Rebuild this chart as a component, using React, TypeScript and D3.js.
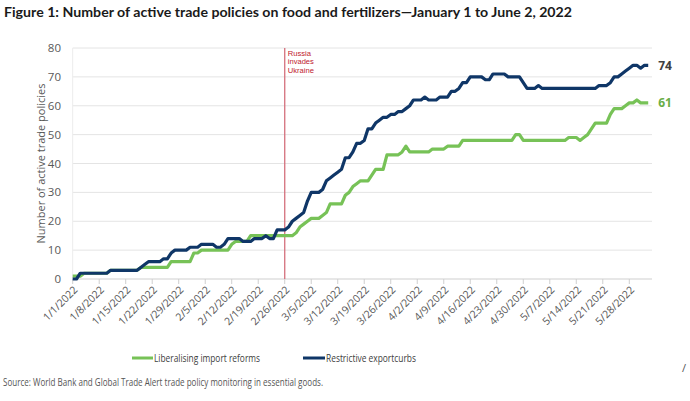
import React from "react";
import * as d3 from "d3";

const START = "2022-01-01";
const END_DOMAIN = "2022-06-03";

// daily values from 1/1/2022 to 6/2/2022 (one row per week)
const liberalising: number[] = [
  1, 1, 1, 2, 2, 2, 2,
  2, 2, 2, 3, 3, 3, 3,
  3, 3, 3, 3, 4, 4, 4,
  4, 4, 4, 4, 4, 6, 6,
  6, 6, 6, 6, 9, 9, 10,
  10, 10, 10, 10, 10, 10, 10,
  12, 13, 13, 13, 13, 15, 15,
  15, 15, 15, 15, 15, 15, 15,
  15, 15, 15, 16, 18, 19, 20,
  21, 21, 21, 22, 23, 26, 26,
  26, 26, 29, 30, 32, 33, 34,
  34, 34, 36, 38, 38, 38, 43,
  43, 43, 43, 44, 46, 44, 44,
  44, 44, 44, 44, 45, 45, 45,
  45, 46, 46, 46, 46, 48, 48,
  48, 48, 48, 48, 48, 48, 48,
  48, 48, 48, 48, 48, 50, 50,
  48, 48, 48, 48, 48, 48, 48,
  48, 48, 48, 48, 48, 49, 49,
  49, 48, 49, 50, 52, 54, 54,
  54, 54, 57, 59, 59, 59, 60,
  61, 61, 62, 61, 61, 61,
];

const restrictive: number[] = [
  0, 0, 2, 2, 2, 2, 2,
  2, 2, 2, 3, 3, 3, 3,
  3, 3, 3, 3, 4, 5, 6,
  6, 6, 6, 7, 7, 9, 10,
  10, 10, 10, 11, 11, 11, 12,
  12, 12, 12, 11, 11, 12, 14,
  14, 14, 14, 13, 13, 13, 14,
  14, 14, 15, 14, 14, 17, 17,
  17, 18, 20, 21, 22, 23, 27,
  30, 30, 30, 31, 34, 35, 36,
  37, 38, 42, 42, 44, 47, 47,
  48, 52, 52, 54, 55, 56, 56,
  57, 57, 58, 58, 59, 60, 62,
  62, 62, 63, 62, 62, 62, 63,
  63, 63, 65, 65, 66, 68, 68,
  70, 70, 70, 70, 69, 69, 71,
  71, 71, 71, 70, 70, 70, 70,
  68, 66, 66, 66, 67, 66, 66,
  66, 66, 66, 66, 66, 66, 66,
  66, 66, 66, 66, 66, 66, 67,
  67, 67, 68, 70, 70, 71, 72,
  73, 74, 74, 73, 74, 74,
];

const seriesNames = ["Liberalising import reforms", "Restrictive exportcurbs"];
const yTicks = [0, 10, 20, 30, 40, 50, 60, 70, 80];
const xTickDates = [
  "2022-01-01", "2022-01-08", "2022-01-15", "2022-01-22", "2022-01-29",
  "2022-02-05", "2022-02-12", "2022-02-19", "2022-02-26", "2022-03-05",
  "2022-03-12", "2022-03-19", "2022-03-26", "2022-04-02", "2022-04-09",
  "2022-04-16", "2022-04-23", "2022-04-30", "2022-05-07", "2022-05-14",
  "2022-05-21", "2022-05-28",
];
const invasionDate = "2022-02-26";
const invasionLabel = ["Russia", "invades", "Ukraine"];

const GREEN = "#77c257";
const NAVY = "#0f3667";

const parse = (s: string) => new Date(s + "T00:00:00Z");

export default function App() {
  const W = 690, H = 401;
  const left = 72.7, right = 652, top = 48, bottom = 279;
  const x = d3.scaleUtc().domain([parse(START), parse(END_DOMAIN)]).range([left, right]);
  const y = d3.scaleLinear().domain([0, 80]).range([bottom, top]);
  const start = parse(START);
  const dayDate = (i: number) => d3.utcDay.offset(start, i);
  const line = d3
    .line<number>()
    .x((_, i) => x(dayDate(i)))
    .y((v) => y(v));
  const fmt = d3.utcFormat("%-m/%-d/%Y");
  const xi = x(parse(invasionDate));
  const font = "'Open Sans', 'Noto Sans', sans-serif";
  const lastL = liberalising[liberalising.length - 1];
  const lastR = restrictive[restrictive.length - 1];
  const lastX = x(dayDate(restrictive.length - 1));

  return (
    <svg width={W} height={H} style={{ position: "absolute", left: 0, top: 0, background: "#fff" }}>
      <text x={4} y={17} fontFamily="Lato, sans-serif" fontWeight={700} fontSize={12.5} fill="#1a1a1a" textLength={568} lengthAdjust="spacingAndGlyphs">
        Figure 1: Number of active trade policies on food and fertilizers—January 1 to June 2, 2022
      </text>
      {/* gridlines */}
      {yTicks.map((t) => (
        <line key={t} x1={left} x2={right} y1={y(t)} y2={y(t)} stroke={t === 0 ? "#cfcfcf" : "#e4e4e4"} strokeWidth={1} />
      ))}
      <line x1={left} x2={left} y1={top} y2={bottom} stroke="#ececec" />
      {yTicks.map((t) => (
        <text key={t} x={61} y={y(t)} dy="0.35em" textAnchor="end" fontFamily={font} fontSize={11.5} fill="#595959">
          {t}
        </text>
      ))}
      <text
        transform={`translate(41,${(top + bottom) / 2}) rotate(-90)`}
        x={-80}
        dy="0.35em"
        fontFamily={font}
        fontSize={11.5}
        fill="#595959"
        textLength={160}
        lengthAdjust="spacingAndGlyphs"
      >
        Number of active trade policies
      </text>
      {/* x ticks */}
      {xTickDates.map((s) => {
        const tx = x(parse(s));
        return (
          <g key={s}>
            <line x1={tx} x2={tx} y1={bottom} y2={bottom + 5} stroke="#cfcfcf" />
            <text
              transform={`translate(${tx + 3},${bottom + 9}) rotate(-45)`}
              textAnchor="end"
              dy="0.35em"
              fontFamily={font}
              fontSize={10.5}
              fill="#595959"
            >
              {fmt(parse(s))}
            </text>
          </g>
        );
      })}
      {/* invasion marker */}
      <line x1={xi} x2={xi} y1={top} y2={bottom} stroke="#d4707c" strokeWidth={1.3} />
      {invasionLabel.map((t, i) => (
        <text key={t} x={xi + 3} y={55.8 + i * 8.5} fontFamily="'Liberation Sans', Arial, sans-serif" fontSize={7.6} fill="#c0202e">
          {t}
        </text>
      ))}
      {/* lines */}
      <path d={line(liberalising) || ""} fill="none" stroke={GREEN} strokeWidth={3.2} strokeLinejoin="round" />
      <path d={line(restrictive) || ""} fill="none" stroke={NAVY} strokeWidth={3.2} strokeLinejoin="round" />
      <text x={lastX + 10} y={y(lastR)} dy="0.35em" fontFamily={font} fontWeight={700} fontSize={12} fill="#404040">
        {lastR}
      </text>
      <text x={lastX + 10} y={y(lastL)} dy="0.35em" fontFamily={font} fontWeight={700} fontSize={12} fill="#6aae47">
        {lastL}
      </text>
      {/* legend */}
      <line x1={132} x2={153} y1={358} y2={358} stroke={GREEN} strokeWidth={3} />
      <text x={154} y={358} dy="0.35em" fontFamily={font} fontSize={11.5} fill="#404040" textLength={106} lengthAdjust="spacingAndGlyphs">
        {seriesNames[0]}
      </text>
      <line x1={303} x2={325} y1={358} y2={358} stroke={NAVY} strokeWidth={3} />
      <text x={326} y={358} dy="0.35em" fontFamily={font} fontSize={11.5} fill="#404040" textLength={90} lengthAdjust="spacingAndGlyphs">
        {seriesNames[1]}
      </text>
      <text x={3} y={382} dy="0.35em" fontFamily={font} fontSize={11.5} fill="#555" textLength={320} lengthAdjust="spacingAndGlyphs">
        Source: World Bank and Global Trade Alert trade policy monitoring in essential goods.
      </text>
      <text x={682} y={372} fontFamily={font} fontSize={11} fill="#555">/</text>
    </svg>
  );
}
